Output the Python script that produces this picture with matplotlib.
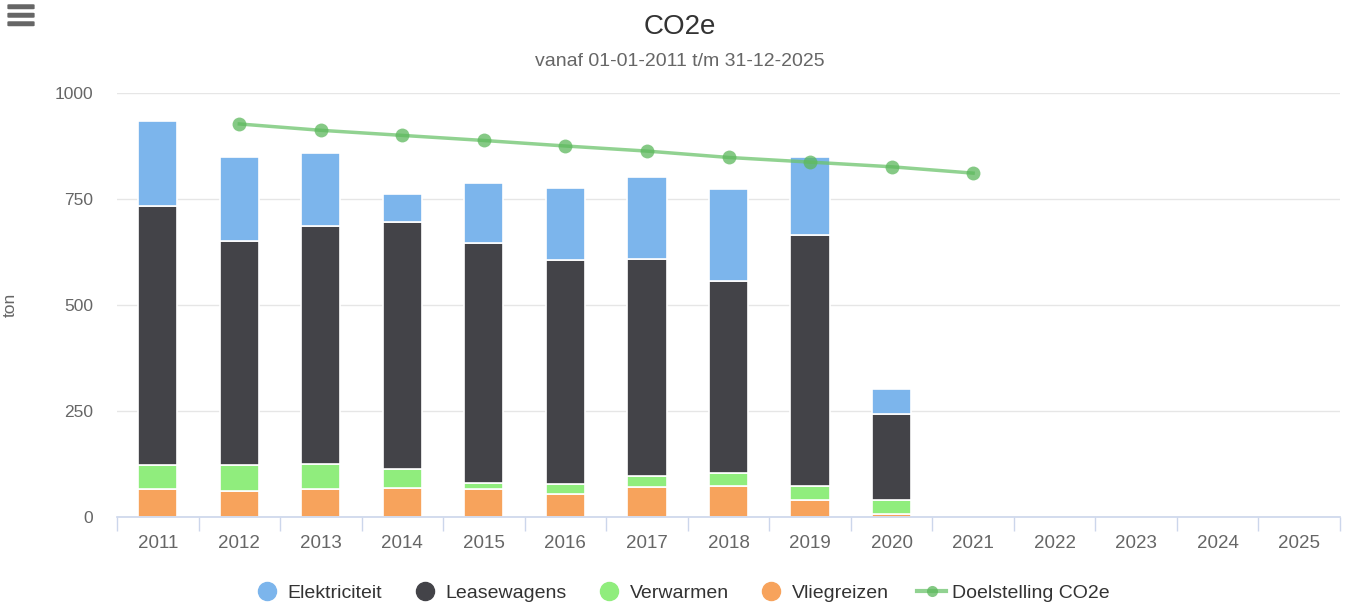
import matplotlib
matplotlib.use("Agg")
import matplotlib.pyplot as plt
from matplotlib.lines import Line2D
from matplotlib.patches import FancyBboxPatch
import numpy as np

plt.rcParams['font.family'] = ['Liberation Sans', 'DejaVu Sans']

years = ['2011', '2012', '2013', '2014', '2015', '2016', '2017', '2018',
         '2019', '2020', '2021', '2022', '2023', '2024', '2025']
vliegreizen = [65, 62, 65, 69, 65, 55, 70, 74, 39, 6, 0, 0, 0, 0, 0]
verwarmen = [57, 60, 60, 45, 16, 22, 27, 30, 35, 33, 0, 0, 0, 0, 0]
leasewagens = [611, 528, 562, 581, 565, 528, 511, 452, 591, 204, 0, 0, 0, 0, 0]
elektriciteit = [202, 198, 172, 66, 142, 171, 195, 217, 183, 59, 0, 0, 0, 0, 0]
target_years = ['2012', '2013', '2014', '2015', '2016', '2017', '2018', '2019', '2020', '2021']
target = [927, 912, 900, 888, 875, 863, 848, 837, 826, 811]

c_elek = '#7cb5ec'
c_lease = '#434348'
c_verw = '#90ed7d'
c_vlieg = '#f7a35c'
c_line = '#6cc46c'

fig = plt.figure(figsize=(13.55, 6.14), dpi=100)
ax = fig.add_axes([117/1355, (614-517)/614, (1340-117)/1355, (517-93)/614])

x = np.arange(len(years))
w = 0.48
bottom = np.zeros(len(years))
for vals, col in [(vliegreizen, c_vlieg), (verwarmen, c_verw),
                  (leasewagens, c_lease), (elektriciteit, c_elek)]:
    v = np.array(vals, dtype=float)
    mask = v > 0
    ax.bar(x[mask], v[mask], w, bottom=bottom[mask], color=col,
           edgecolor='white', linewidth=1.2, zorder=2)
    bottom += v

tx = [years.index(t) for t in target_years]
ax.plot(tx, target, color=c_line, alpha=0.75, linewidth=2.5, zorder=3,
        marker='o', markersize=10, markerfacecolor='#5cb85c', markeredgewidth=0)

ax.set_xlim(-0.5, len(years) - 0.5)
ax.set_ylim(0, 1000)
ax.set_yticks([0, 250, 500, 750, 1000])
ax.set_yticklabels(['0', '250', '500', '750', '1000'])
ax.set_xticks(x)
ax.set_xticklabels(years)
ax.set_xticks(np.arange(-0.5, len(years), 1), minor=True)
ax.tick_params(axis='x', which='major', length=0, pad=13, labelsize=13.5, labelcolor='#666666')
ax.tick_params(axis='x', which='minor', length=10, color='#ccd6eb', width=1)
ax.tick_params(axis='y', length=0, pad=17, labelsize=12.5, labelcolor='#666666')
ax.grid(axis='y', color='#e6e6e6', linewidth=1, zorder=0)
ax.set_axisbelow(True)
for s in ['top', 'right', 'left']:
    ax.spines[s].set_visible(False)
ax.spines['bottom'].set_color('#ccd6eb')
ax.spines['bottom'].set_linewidth(1.2)
ax.spines['bottom'].set_zorder(4)

fig.text(10/1355, 1 - 305/614, 'ton', rotation=90, ha='center', va='center',
         fontsize=12.5, color='#666666')
fig.text(680/1355, 1 - 27/614, 'CO2e', ha='center', va='center', fontsize=20, color='#333333')
fig.text(680/1355, 1 - 62/614, 'vanaf 01-01-2011 t/m 31-12-2025', ha='center', va='center',
         fontsize=14, color='#666666')

# hamburger menu icon
for yy in [4, 12.5, 21]:
    fig.patches.append(FancyBboxPatch((9/1355, 1 - (yy + 4.5)/614), 24/1355, 3.5/614,
                                      boxstyle='round,pad=0.0012', transform=fig.transFigure,
                                      facecolor='#666666', edgecolor='none'))

handles = [
    Line2D([], [], linestyle='none', marker='o', markersize=13, color=c_elek),
    Line2D([], [], linestyle='none', marker='o', markersize=13, color=c_lease),
    Line2D([], [], linestyle='none', marker='o', markersize=13, color=c_verw),
    Line2D([], [], linestyle='none', marker='o', markersize=13, color=c_vlieg),
    Line2D([], [], color=c_line, alpha=0.75, linewidth=3, marker='o', markersize=8,
           markerfacecolor='#5cb85c', markeredgewidth=0),
]
labels = ['Elektriciteit', 'Leasewagens', 'Verwarmen', 'Vliegreizen', 'Doelstelling CO2e']
leg = fig.legend(handles, labels, loc='center', bbox_to_anchor=(681/1355, 1 - 593/614),
                 ncol=5, frameon=False, fontsize=14, handlelength=1.5, handletextpad=0.3,
                 columnspacing=1.45, labelcolor='#333333')

fig.savefig('out.png', dpi=100)
